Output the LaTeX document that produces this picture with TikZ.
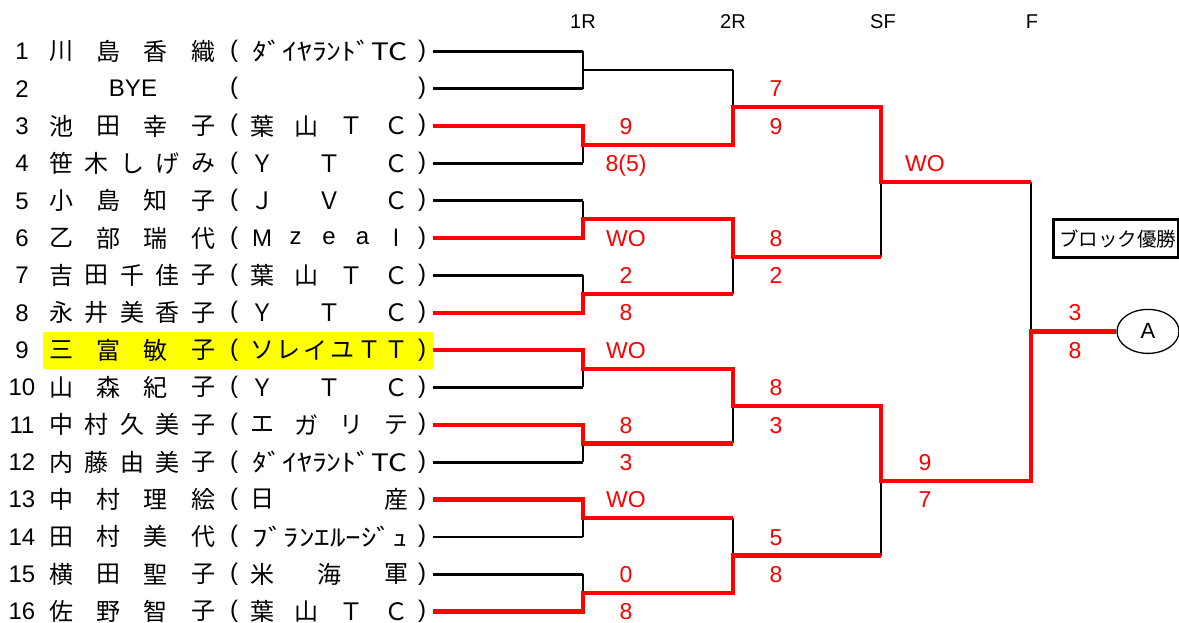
\documentclass[tikz,border=0pt]{standalone}
\usepackage{fontspec}
\setmainfont{Liberation Sans}
\newfontfamily\jpf{Noto Sans CJK JP}
\usetikzlibrary{shapes.geometric}
\definecolor{wred}{RGB}{255,0,0}
\definecolor{hl}{RGB}{255,255,0}
\tikzset{
  jp/.style={inner sep=0pt, font=\jpf\fontsize{24}{28}\selectfont},
  jpbox/.style={inner sep=0pt, font=\jpf\fontsize{19.5}{23}\selectfont},
  lat/.style={inner sep=0pt, font=\fontsize{24}{28}\selectfont},
  paren/.style={inner sep=0pt, font=\fontsize{24}{28}\selectfont},
  score/.style={inner sep=0pt, anchor=base, text=wred, font=\fontsize{23}{27}\selectfont},
  head/.style={inner sep=0pt, anchor=base, font=\fontsize{20}{24}\selectfont},
  blk/.style={line width=2.7pt, black},
  win/.style={line width=4.2pt, wred},
}
\newcommand\Nm[3]{%
  \foreach \ch [count=\k] in {#3}{%
    \pgfmathsetmacro\xx{61+(\k-1)*142/(#2-1)}%
    \node[jp] (nm#1-\k) at (\xx,{51.3+(#1-1)*37.35}) {\ch};}}
\newcommand\Cl[3]{%
  \foreach \ch [count=\k] in {#3}{%
    \pgfmathsetmacro\xx{262+(\k-1)*134/(#2-1)}%
    \node[jp] (cl#1-\k) at (\xx,{51.3+(#1-1)*37.35}) {\ch};}}
\newcommand\LCl[3]{%
  \foreach \ch [count=\k] in {#3}{%
    \pgfmathsetmacro\xx{262+(\k-1)*134/(#2-1)}%
    \node[lat] (cl#1-\k) at (\xx,{51.3+(#1-1)*37.35}) {\ch};}}
\newcommand\HCl[2]{%
  \node[jp] (cl#1) at (330,{51.3+(#1-1)*37.35}) {\resizebox{155pt}{\height}{#2}};}
\begin{document}
\begin{tikzpicture}[x=1pt,y=-1pt]
\useasboundingbox (0,0) rectangle (1179,623);
\fill[white] (0,0) rectangle (1179,623);
% highlight of entry 9
\fill[hl] (43,332) rectangle (433,369);
% coordinates
\foreach \i in {1,...,16}{
  \coordinate (P\i) at (433,{51.3+(\i-1)*37.35});
  \coordinate (Q\i) at (583,{51.3+(\i-1)*37.35});
  \node[lat, anchor=base] (num\i) at (22,{51.3+(\i-1)*37.35+8.4}) {\i};
  \node[paren, anchor=base] (lp\i) at (234,{51.3+(\i-1)*37.35+6}) {(};
  \node[paren, anchor=base] (rp\i) at (422,{51.3+(\i-1)*37.35+6}) {)};
}
\foreach \j in {1,...,8}{
  \coordinate (M\j) at (583,{69.975+(\j-1)*74.7});
  \coordinate (N\j) at (733,{69.975+(\j-1)*74.7});
}
\foreach \k in {1,...,4}{
  \coordinate (R\k) at (733,{107.325+(\k-1)*149.4});
  \coordinate (S\k) at (881,{107.325+(\k-1)*149.4});
}
\foreach \l in {1,2}{
  \coordinate (T\l) at (881,{182.025+(\l-1)*298.8});
  \coordinate (U\l) at (1031,{182.025+(\l-1)*298.8});
}
\coordinate (V) at (1031,331.4);
% headers
\node[head] (h1) at (583,29) {1R};
\node[head] (h2) at (733,29) {2R};
\node[head] (h3) at (883,29) {SF};
\node[head] (h4) at (1032,29) {F};
% names
\Nm{1}{4}{川,島,香,織}
\HCl{1}{ﾀﾞｲﾔﾗﾝﾄﾞTC}
\node[lat] (bye) at (133,51.3+37.35) {BYE};
\Nm{3}{4}{池,田,幸,子}
\Cl{3}{4}{葉,山,Ｔ,Ｃ}
\Nm{4}{5}{笹,木,し,げ,み}
\Cl{4}{3}{Ｙ,Ｔ,Ｃ}
\Nm{5}{4}{小,島,知,子}
\Cl{5}{3}{Ｊ,Ｖ,Ｃ}
\Nm{6}{4}{乙,部,瑞,代}
\LCl{6}{5}{M,z,e,a,l}
\Nm{7}{5}{吉,田,千,佳,子}
\Cl{7}{4}{葉,山,Ｔ,Ｃ}
\Nm{8}{5}{永,井,美,香,子}
\Cl{8}{3}{Ｙ,Ｔ,Ｃ}
\Nm{9}{4}{三,富,敏,子}
\Cl{9}{6}{ソ,レ,イ,ユ,Ｔ,Ｔ}
\Nm{10}{4}{山,森,紀,子}
\Cl{10}{3}{Ｙ,Ｔ,Ｃ}
\Nm{11}{5}{中,村,久,美,子}
\Cl{11}{4}{エ,ガ,リ,テ}
\Nm{12}{5}{内,藤,由,美,子}
\HCl{12}{ﾀﾞｲﾔﾗﾝﾄﾞTC}
\Nm{13}{4}{中,村,理,絵}
\Cl{13}{2}{日,産}
\Nm{14}{4}{田,村,美,代}
\HCl{14}{ﾌﾞﾗﾝｴﾙｰｼﾞｭ}
\Nm{15}{4}{横,田,聖,子}
\Cl{15}{3}{米,海,軍}
\Nm{16}{4}{佐,野,智,子}
\Cl{16}{4}{葉,山,Ｔ,Ｃ}
% champion mark and box
\node[draw, ellipse, line width=1.3pt, minimum width=62pt, minimum height=44pt, inner sep=0pt,
      font=\fontsize{22}{26}\selectfont] (circ) at (1148,331.4) {A};
\draw[line width=3pt] (1053,220) rectangle (1178.5,257);
\node[jpbox, anchor=west] (blk) at (1059,239) {ブロック優勝};
% black bracket lines
\draw[blk] (P1)--(Q1) (P2)--(Q2) (P4)--(Q4) (P5)--(Q5) (P7)--(Q7)
  (P10)--(Q10) (P12)--(Q12) (P14)--(Q14) (P15)--(Q15);
\draw[blk] (Q1)--(Q2) (M2)--(Q4) (Q5)--(M3) (Q7)--(M4) (M5)--(Q10)
  (M6)--(Q12) (M7)--(Q14) (Q15)--(M8);
\draw[blk] (M1)--(N1);
\draw[blk] (N1)--(R1) (R2)--(N4) (R3)--(N6) (N7)--(R4);
\draw[blk] (T1)--(S2) (T2)--(S4);
\draw[blk] (U1)--(V);
% winners' paths
\draw[win] (P3)--(Q3)--(M2)--(N2)--(R1)--(S1)--(T1)--(U1);
\draw[win] (P6)--(Q6)--(M3)--(N3)--(R2)--(S2);
\draw[win] (P8)--(Q8)--(M4)--(N4);
\draw[win] (P9)--(Q9)--(M5)--(N5)--(R3)--(S3)--(T2)--(U2)--(V)--(circ.west);
\draw[win] (P11)--(Q11)--(M6)--(N6);
\draw[win] (P13)--(Q13)--(M7)--(N7);
\draw[win] (P16)--(Q16)--(M8)--(N8)--(R4)--(S4);
% scores 1R
\node[score] (s1a) at (626,126+8.2) {9};
\node[score] (s1b) at (626,163.35+8.2) {8(5)};
\node[score] (s1c) at (626,238.05+8.2) {WO};
\node[score] (s1d) at (626,275.4+8.2) {2};
\node[score] (s1e) at (626,312.75+8.2) {8};
\node[score] (s1f) at (626,350.1+8.2) {WO};
\node[score] (s1g) at (626,424.8+8.2) {8};
\node[score] (s1h) at (626,462.15+8.2) {3};
\node[score] (s1i) at (626,499.5+8.2) {WO};
\node[score] (s1j) at (626,574.2+8.2) {0};
\node[score] (s1k) at (626,611.55+8.2) {8};
% scores 2R
\node[score] (s2a) at (776,88.65+8.2) {7};
\node[score] (s2b) at (776,126+8.2) {9};
\node[score] (s2c) at (776,238.05+8.2) {8};
\node[score] (s2d) at (776,275.4+8.2) {2};
\node[score] (s2e) at (776,387.45+8.2) {8};
\node[score] (s2f) at (776,424.8+8.2) {3};
\node[score] (s2g) at (776,536.85+8.2) {5};
\node[score] (s2h) at (776,574.2+8.2) {8};
% scores SF
\node[score] (s3a) at (925,163.35+8.2) {WO};
\node[score] (s3b) at (925,462.15+8.2) {9};
\node[score] (s3c) at (925,499.5+8.2) {7};
% scores F
\node[score] (s4a) at (1075,312.75+8.2) {3};
\node[score] (s4b) at (1075,350.1+8.2) {8};
\end{tikzpicture}
\end{document}
